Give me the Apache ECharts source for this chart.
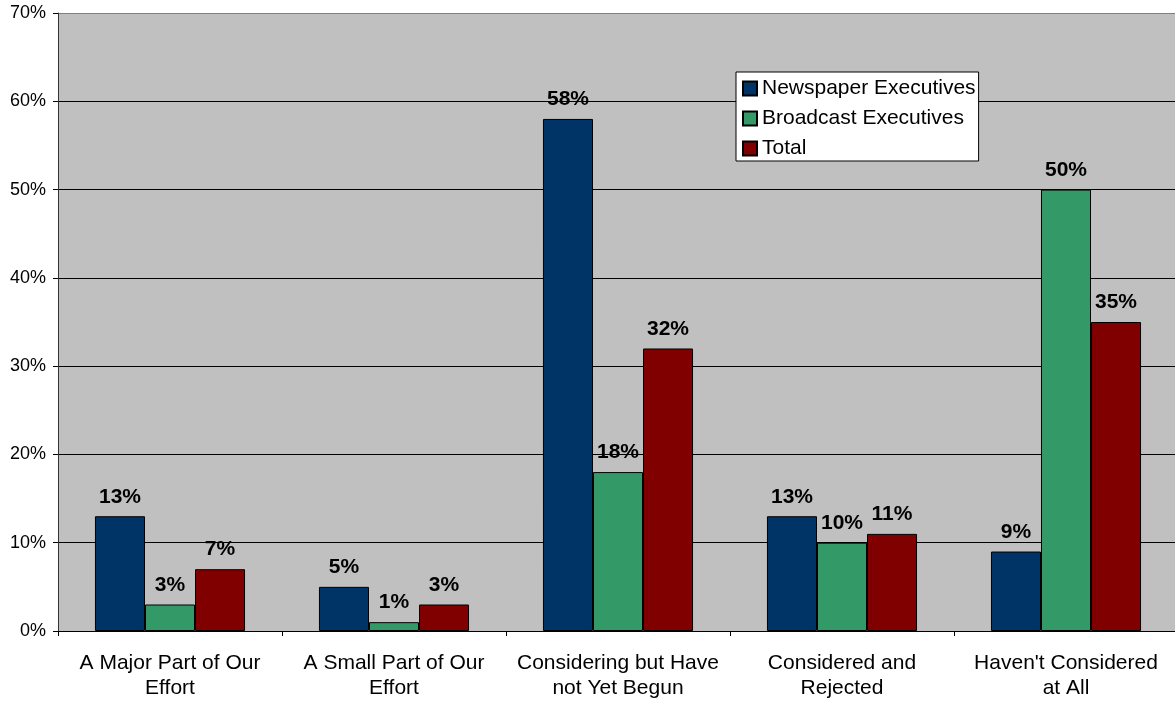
<!DOCTYPE html>
<html><head><meta charset="utf-8">
<script src="https://cdn.jsdelivr.net/npm/echarts@6/dist/echarts.min.js"></script>
<style>html,body{margin:0;padding:0;background:#fff;overflow:hidden}#c{width:1178px;height:702px}</style>
</head><body><div id="c"></div>
<script>
const categories = ["A Major Part of Our\nEffort","A Small Part of Our\nEffort","Considering but Have\nnot Yet Begun","Considered and\nRejected","Haven't Considered\nat All"];
const newspaper = [13,5,58,13,9];
const broadcast = [3,1,18,10,50];
const total = [7,3,32,11,35];
const seriesNames = ["Newspaper Executives","Broadcast Executives","Total"];
const colors = ["#003366","#339966","#800000"];
const F = "Arial, 'Liberation Sans', sans-serif";
const chart = echarts.init(document.getElementById('c'));
function mk(name, data, color){
  return {name, type:'bar', data, barGap:'0%', barCategoryGap:'33%',
    itemStyle:{color, borderColor:'#000', borderWidth:1},
    label:{show:true, position:'top', distance:9, formatter:'{c}%', fontFamily:F, fontSize:21, fontWeight:'bold', color:'#000'}};
}
chart.setOption({
  animation:false,
  grid:{left:58, right:0, top:13, bottom:71, show:true, backgroundColor:'#c0c0c0', borderWidth:0},
  legend:{orient:'vertical', left:736, top:72, backgroundColor:'#fff', borderColor:'#000', borderWidth:1,
    padding:[4,3,0,6], itemWidth:14, itemHeight:14, itemGap:5, icon:'rect',
    textStyle:{fontFamily:F, fontSize:21, color:'#000', lineHeight:25}, data:seriesNames},
  xAxis:{type:'category', data:categories,
    axisLine:{lineStyle:{color:'#000'}}, axisTick:{show:true, length:5, lineStyle:{color:'#000'}},
    axisLabel:{fontFamily:F, fontSize:21, color:'#000', lineHeight:25, margin:20, interval:0}},
  yAxis:{type:'value', min:0, max:70, interval:10,
    axisLine:{show:true, lineStyle:{color:'#333'}}, axisTick:{show:true, length:5, lineStyle:{color:'#000'}},
    axisLabel:{fontFamily:F, fontSize:18, color:'#000', margin:12, formatter:'{value}%'},
    splitLine:{show:true, lineStyle:{color:['#000','#000','#000','#000','#000','#000','#000','#808080'], width:1}}},
  series:[mk(seriesNames[0], newspaper, colors[0]), mk(seriesNames[1], broadcast, colors[1]), mk(seriesNames[2], total, colors[2])]
});
</script></body></html>
